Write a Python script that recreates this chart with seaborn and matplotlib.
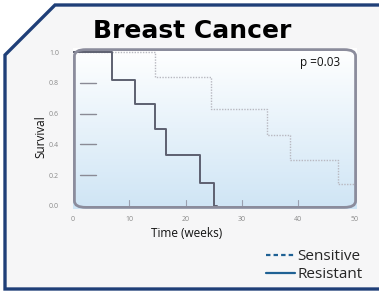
import seaborn as sns
import matplotlib.pyplot as plt
import pandas as pd
import numpy as np
from matplotlib.patches import Polygon, FancyBboxPatch
from matplotlib.lines import Line2D
from matplotlib.colors import LinearSegmentedColormap

# Kaplan-Meier style step data
resistant_weeks = [0, 7, 11, 14.5, 16.5, 22.5, 25, 25.5]
resistant_surv = [1.0, 0.82, 0.66, 0.50, 0.33, 0.15, 0.0, 0.0]
sensitive_weeks = [0, 14.5, 24.5, 34.5, 38.5, 47, 50]
sensitive_surv = [1.0, 0.84, 0.63, 0.46, 0.30, 0.14, 0.14]

y_ticks = [0.0, 0.2, 0.4, 0.6, 0.8, 1.0]
x_ticks = [0, 10, 20, 30, 40, 50]
p_text = 'p =0.03'

res = pd.DataFrame({'Time': resistant_weeks, 'Survival': resistant_surv})
sen = pd.DataFrame({'Time': sensitive_weeks, 'Survival': sensitive_surv})

sns.set_style('white')
plt.rcParams['font.family'] = ['Open Sans', 'DejaVu Sans']

fig = plt.figure(figsize=(3.79, 2.94), dpi=100, facecolor='white')
W, H = 379, 294

def fx(px):
    return px / W

def fy(py):
    return 1 - py / H

# outer frame with cut corner
frame = Polygon([(fx(5), fy(289)), (fx(5), fy(55)), (fx(55), fy(5)),
                 (fx(385), fy(5)), (fx(385), fy(289))],
                closed=True, transform=fig.transFigure,
                facecolor='#f6f6f7', edgecolor='#1f3f78', linewidth=2.4,
                zorder=-1)
fig.patches.append(frame)

ax = fig.add_axes([fx(73), fy(209), fx(357) - fx(73), fy(48) - fy(209)])
ax.set_zorder(2)
ax.set_facecolor('none')

# gradient background inside the rounded panel
grad = np.linspace(0, 1, 256).reshape(-1, 1)
cmap = LinearSegmentedColormap.from_list('bg', ['#ffffff', '#cfe5f5'])
ax.imshow(grad, extent=[0, 1, 0, 1], transform=ax.transAxes, cmap=cmap,
          aspect='auto', zorder=0)
box = FancyBboxPatch((0.005, 0.01), 0.99, 0.98, transform=ax.transAxes,
                     boxstyle='round,pad=0,rounding_size=0.04',
                     facecolor='none', edgecolor='#8b8c9c', linewidth=2,
                     zorder=3, clip_on=False)
ax.add_patch(box)
for s in ax.spines.values():
    s.set_visible(False)

sns.lineplot(data=sen, x='Time', y='Survival', drawstyle='steps-post',
             estimator=None, color='#b8b8c0', linestyle=(0, (1, 1)),
             linewidth=1.0, ax=ax, zorder=2)
sns.lineplot(data=res, x='Time', y='Survival', drawstyle='steps-post',
             estimator=None, color='#5d6070', linewidth=1.4, ax=ax, zorder=2)

ax.set_xlim(0.3, 50.4)
ax.set_ylim(-0.02, 1.026)
ax.set_yticks(y_ticks)
ax.set_yticklabels([f'{v:.1f}' for v in y_ticks])
ax.set_xticks(x_ticks)
ax.set_xticklabels([str(v) for v in x_ticks])
ax.tick_params(axis='y', direction='in', length=0, pad=10, labelsize=5,
               labelcolor='#8a8a8a')
ax.tick_params(axis='x', direction='in', length=0, pad=5, labelsize=5,
               labelcolor='#8a8a8a')
ax.set_xlabel('Time (weeks)', fontsize=8.5, color='#111111')
ax.set_ylabel('Survival', fontsize=8.5, color='#111111')
ax.xaxis.set_label_coords(0.40, -0.11)
ax.yaxis.set_label_coords(-0.09, 0.45)

# inner tick marks as drawn in the original
for v in y_ticks[1:-1]:
    ax.plot([1.2, 4.0], [v, v], color='#8a8a95', linewidth=1.0, zorder=2)
for v in x_ticks[1:-1]:
    ax.plot([v, v], [0.0, 0.04], color='#9aa0b0', linewidth=0.8, zorder=2)

ax.text(0.94, 0.913, p_text, transform=ax.transAxes, ha='right', va='center',
        fontsize=8.5, color='#111111')

fig.text(fx(192), fy(31), 'Breast Cancer', ha='center', va='center',
         fontsize=18, fontweight='bold', color='black', family='DejaVu Sans')

handles = [Line2D([0], [0], color='#1f6194', linewidth=1.6, linestyle=(0, (2, 1.4))),
           Line2D([0], [0], color='#1f6194', linewidth=1.6)]
fig.legend(handles, ['Sensitive', 'Resistant'], loc='upper right',
           bbox_to_anchor=(fx(363), fy(249)), frameon=False, fontsize=11,
           handlelength=1.9, handletextpad=0.2, labelspacing=0.2,
           borderpad=0, borderaxespad=0)

plt.savefig('out.png', dpi=100, facecolor='white')
plt.close()
